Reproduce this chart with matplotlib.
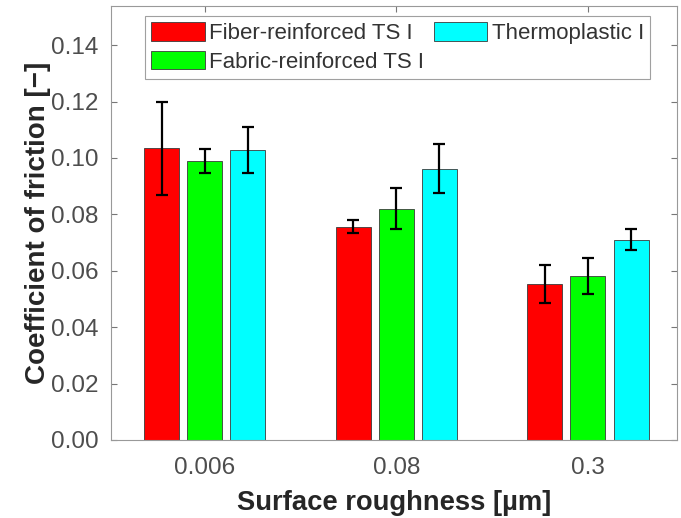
import numpy as np
import matplotlib.pyplot as plt

plt.rcParams['font.family'] = ['Liberation Sans', 'DejaVu Sans']

roughness = ['0.006', '0.08', '0.3']
series = ['Fiber-reinforced TS I', 'Fabric-reinforced TS I', 'Thermoplastic I']
colors = ['#ff0000', '#00ff00', '#00ffff']

fiber = [0.1035, 0.0757, 0.0553]
fabric = [0.0989, 0.0820, 0.0582]
thermo = [0.1028, 0.0962, 0.0710]
fiber_err = [0.0165, 0.0023, 0.0066]
fabric_err = [0.0043, 0.0073, 0.0064]
thermo_err = [0.0082, 0.0087, 0.0037]

values = [fiber, fabric, thermo]
errors = [fiber_err, fabric_err, thermo_err]

fig = plt.figure(figsize=(6.81, 5.18), dpi=100)
ax = fig.add_axes([111/681, 78/518, 566/681, 434/518])

x = np.arange(1, 4)
offs = [-0.225, 0, 0.225]
w = 0.183
for vals, errs, col, name, o in zip(values, errors, colors, series, offs):
    ax.bar(x + o, vals, w, color=col, edgecolor='#3a3a3a', linewidth=0.6, label=name, zorder=2)
    ax.errorbar(x + o, vals, yerr=errs, fmt='none', ecolor='black', elinewidth=1.6,
                capsize=4, capthick=1.6, zorder=3)

ax.set_xlim(0.51, 3.465)
ax.set_ylim(0, 0.1539)
ax.set_xticks(x)
ax.set_xticklabels(roughness)
ax.set_yticks(np.arange(0, 0.141, 0.02))
ax.set_yticklabels(['%.2f' % v for v in np.arange(0, 0.141, 0.02)])
ax.tick_params(direction='in', length=4, width=0.8, color='#777777', labelsize=17.5,
               labelcolor='#4d4d4d', top=True, right=True)
ax.tick_params(axis='y', pad=9)
ax.tick_params(axis='x', pad=12)
for s in ax.spines.values():
    s.set_color('#999999')
    s.set_linewidth(0.8)

ax.set_ylabel('Coefficient of friction [\u2212]', fontsize=20, fontweight='bold', color='#262626', labelpad=0)
ax.set_xlabel('Surface roughness [\u00b5m]', fontsize=19.7, fontweight='bold', color='#262626', labelpad=8)

leg = ax.legend(ncol=2, loc='upper left', bbox_to_anchor=(34/566, 1 - 10/434), fontsize=16,
                frameon=True, fancybox=False, edgecolor='#888888', handlelength=2.4,
                handleheight=0.9, handletextpad=0.2, columnspacing=0.45, labelspacing=0.3,
                borderpad=0.28, borderaxespad=0)
leg.get_frame().set_linewidth(0.8)
for t in leg.get_texts():
    t.set_color('#333333')

fig.savefig('out.png', dpi=100)
